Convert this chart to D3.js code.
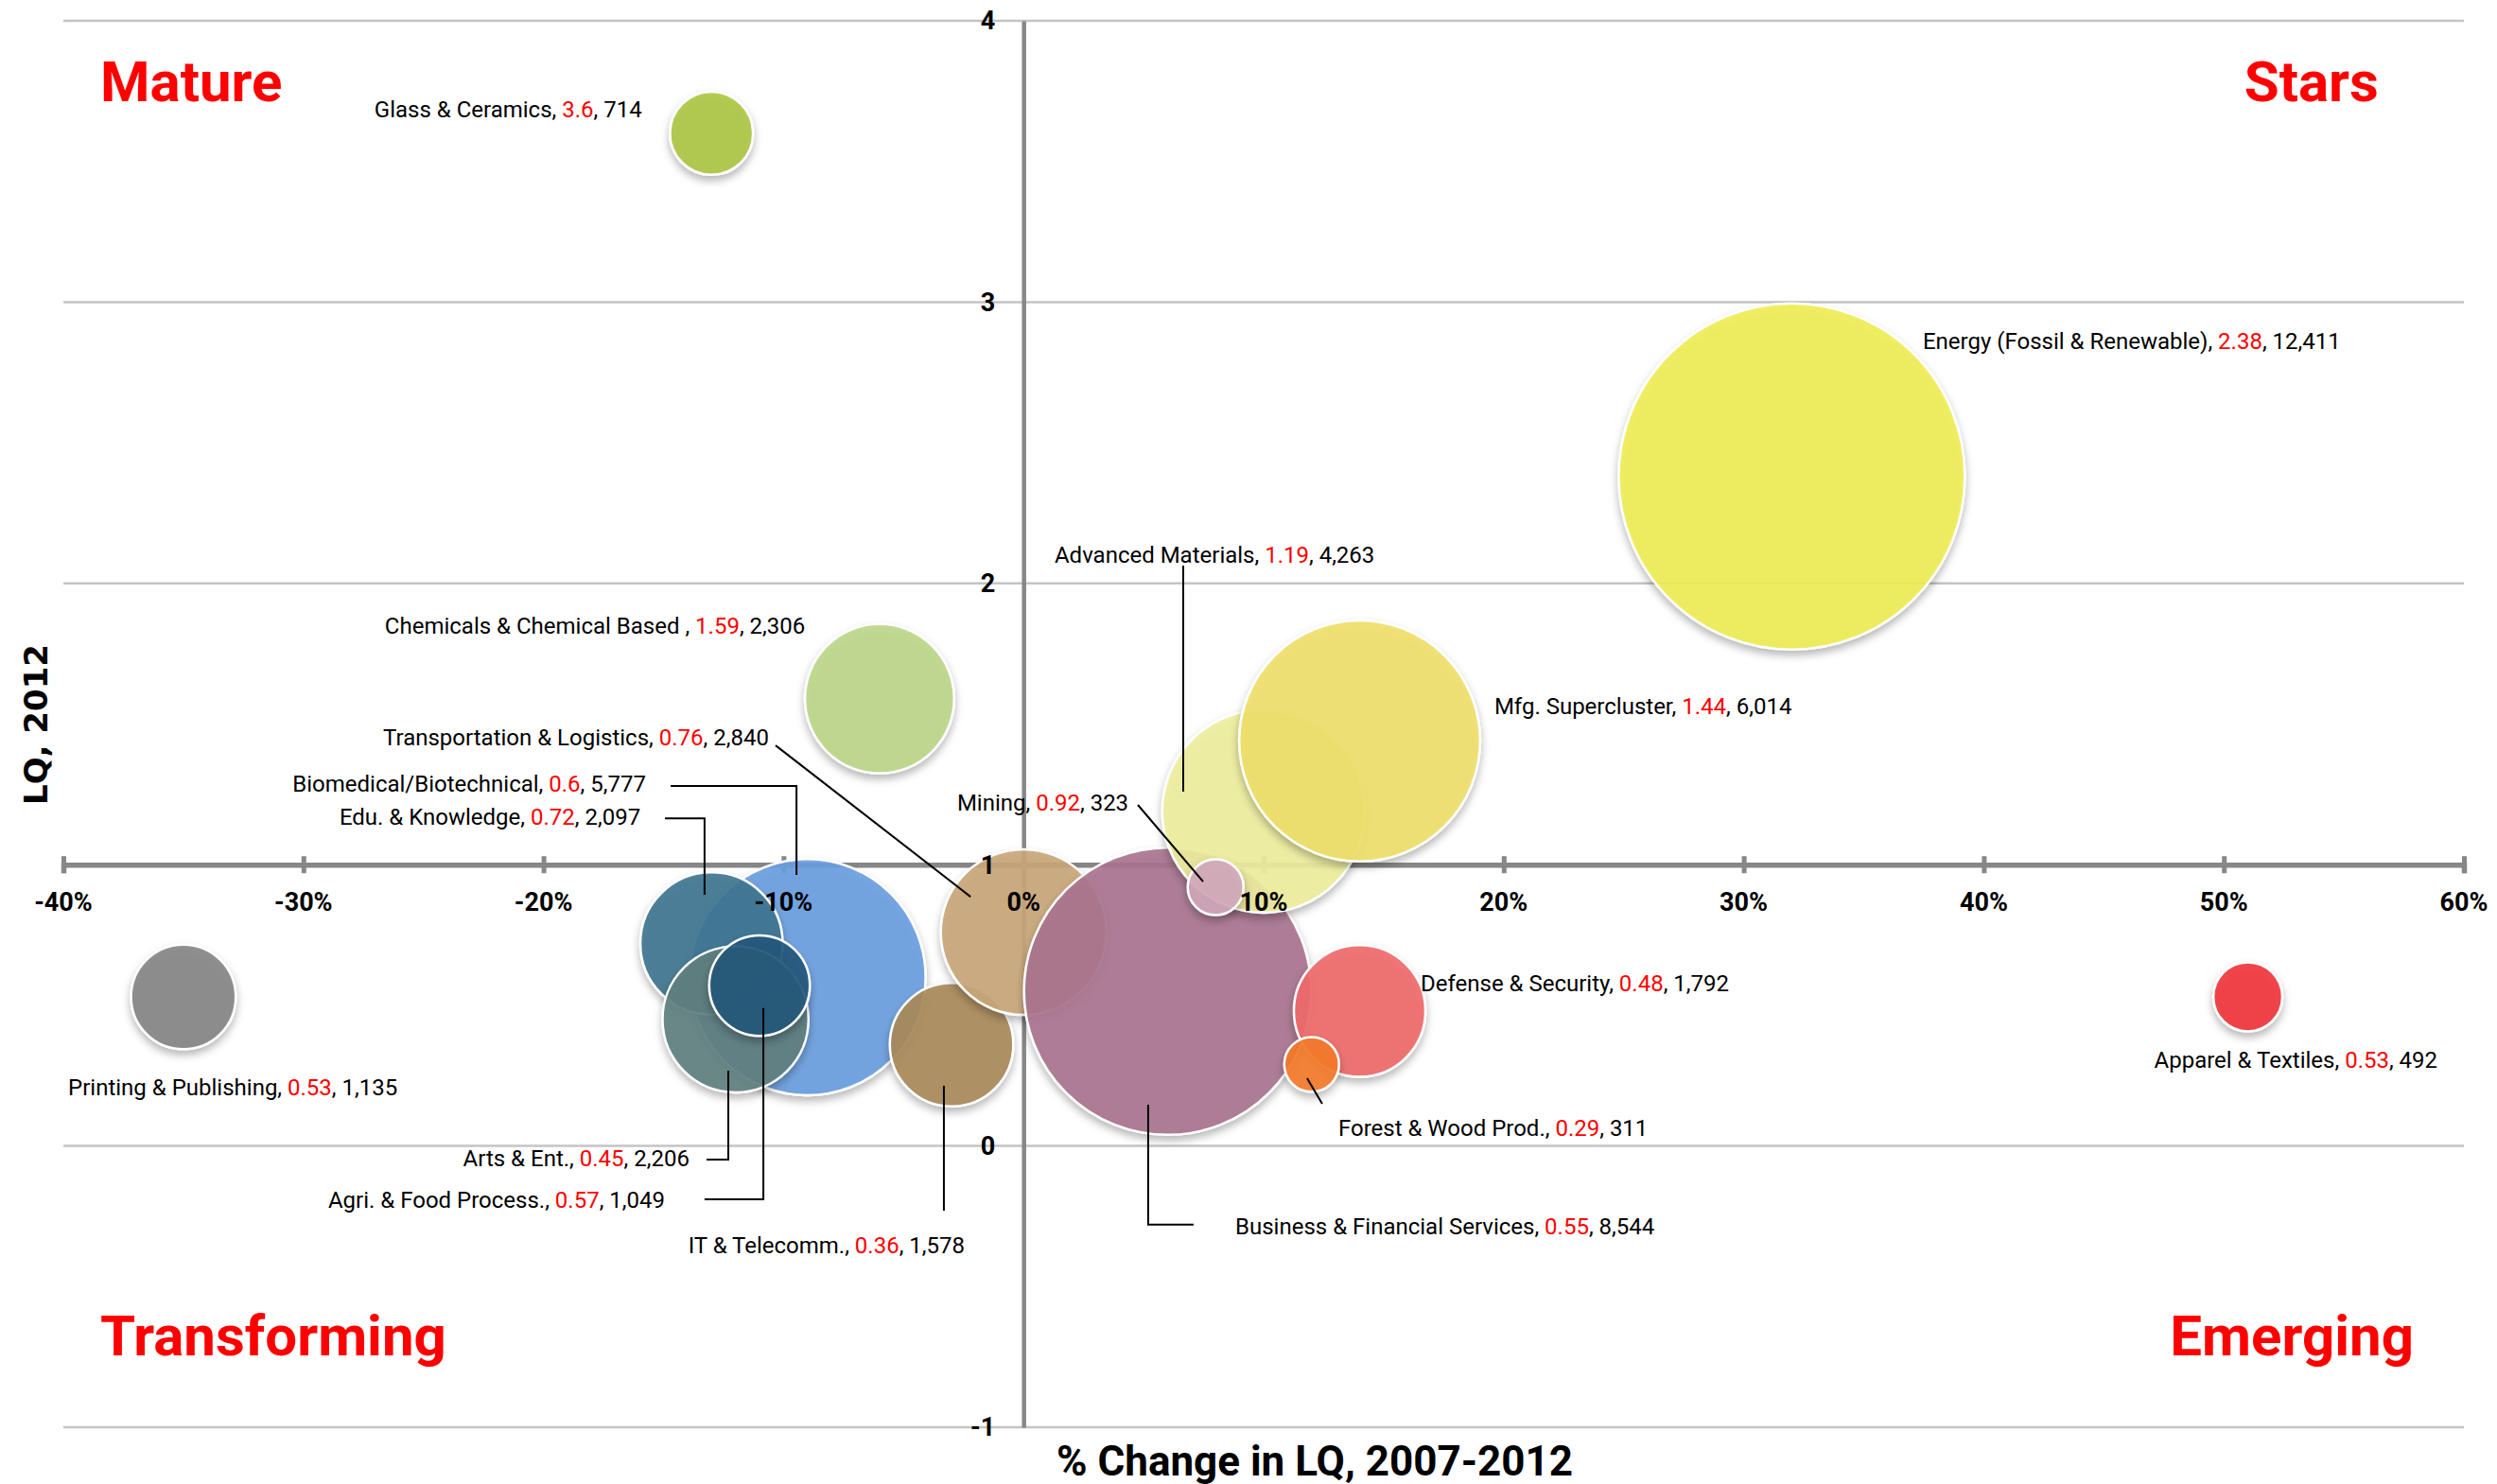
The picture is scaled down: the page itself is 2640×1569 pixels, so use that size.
<!DOCTYPE html>
<html>
<head>
<meta charset="utf-8">
<script src="https://cdn.jsdelivr.net/npm/d3@7"></script>
<style>
  body { margin: 0; background: #fff; }
  text { font-family: Roboto, "Liberation Sans", sans-serif; }
</style>
</head>
<body>
<div id="chart"></div>
<script>
// cluster data, in drawing order
const clusters = ["Printing & Publishing", "Glass & Ceramics", "Chemicals & Chemical Based ",
  "Biomedical/Biotechnical", "Edu. & Knowledge", "Arts & Ent.", "Agri. & Food Process.",
  "IT & Telecomm.", "Transportation & Logistics", "Business & Financial Services",
  "Advanced Materials", "Mfg. Supercluster", "Mining", "Defense & Security",
  "Forest & Wood Prod.", "Energy (Fossil & Renewable)", "Apparel & Textiles"];
const pctChange = [-35, -13, -6, -9, -13, -12, -11, -3, 0, 6, 10, 14, 8, 14, 12, 32, 51];
const lq2012 = [0.53, 3.6, 1.59, 0.6, 0.72, 0.45, 0.57, 0.36, 0.76, 0.55, 1.19, 1.44, 0.92, 0.48, 0.29, 2.38, 0.53];
const employment = [1135, 714, 2306, 5777, 2097, 2206, 1049, 1578, 2840, 8544, 4263, 6014, 323, 1792, 311, 12411, 492];
const colors = ["#858585", "#adc642", "#bcd688", "#6a9fe0", "#3e7590", "#5f8080", "#23587a",
  "#a8895a", "#c9a679", "#a8738f", "#eeee9e", "#efe06a", "#d1a9bb", "#f0696a", "#f47a2a",
  "#f0ee55", "#f0353a"];

const xTicks = [-40, -30, -20, -10, 0, 10, 20, 30, 40, 50, 60];
const yTicks = [-1, 0, 1, 2, 3, 4];

// label placement, in data units (pct, LQ)
const labelAt = [[-39.8, 0.21, "start"], [-15.9, 3.684, "end"], [-9.1, 1.851, "end"],
  [-15.73, 1.2865, "end"], [-15.96, 1.169, "end"], [-13.92, -0.045, "end"], [-14.94, -0.19, "end"],
  [-2.45, -0.354, "end"], [-10.61, 1.451, "end"], [8.82, -0.287, "start"], [1.29, 2.1, "start"],
  [19.61, 1.562, "start"], [4.37, 1.219, "end"], [16.54, 0.577, "start"], [13.11, 0.0625, "start"],
  [37.46, 2.86, "start"], [58.9, 0.305, "end"]];
const leaders = [null, null, null,
  [[-14.7, 1.28], [-9.46, 1.28], [-9.46, 0.964]],
  [[-14.94, 1.165], [-13.29, 1.165], [-13.29, 0.893]],
  [[-13.21, -0.048], [-12.30, -0.048], [-12.30, 0.268]],
  [[-13.29, -0.19], [-10.84, -0.19], [-10.84, 0.49]],
  [[-3.32, 0.214], [-3.32, -0.23]],
  [[-10.33, 1.424], [-2.21, 0.886]],
  [[5.19, 0.147], [5.19, -0.28], [7.08, -0.28]],
  [[6.65, 2.063], [6.65, 1.26]],
  null,
  [[4.76, 1.2125], [7.48, 0.94]],
  null,
  [[11.81, 0.241], [12.44, 0.15]],
  null, null];

const quadrants = [
  {text: "Mature", x: -38.46, y: 3.714, anchor: "start"},
  {text: "Stars", x: 56.45, y: 3.714, anchor: "end"},
  {text: "Transforming", x: -38.46, y: -0.7445, anchor: "start"},
  {text: "Emerging", x: 57.91, y: -0.7445, anchor: "end"}
];

const width = 2640, height = 1569;

const svg = d3.select("#chart").append("svg")
  .attr("width", width)
  .attr("height", height);

const x = d3.scaleLinear().domain([-40, 60]).range([67, 2605]);
const y = d3.scaleLinear().domain([-1, 4]).range([1509, 22]);
const r = d3.scaleSqrt().domain([0, 12411]).range([0, 183]);

const defs = svg.append("defs");
defs.append("filter")
  .attr("id", "shadow")
  .attr("x", "-20%").attr("y", "-20%").attr("width", "140%").attr("height", "150%")
  .append("feDropShadow")
  .attr("dx", 0).attr("dy", 5).attr("stdDeviation", 4)
  .attr("flood-color", "#000").attr("flood-opacity", 0.3);

// gridlines
svg.append("g")
  .selectAll("line")
  .data(yTicks)
  .join("line")
  .attr("x1", x(-40)).attr("x2", x(60))
  .attr("y1", d => y(d)).attr("y2", d => y(d))
  .attr("stroke", "#c4c4c4")
  .attr("stroke-width", 2.5);

// vertical axis at 0%
const yAxis = svg.append("g")
  .attr("transform", `translate(${x(0)},0)`)
  .call(d3.axisLeft(y).tickValues(yTicks).tickSize(0).tickFormat(d3.format("d")));
yAxis.select(".domain").attr("stroke", "#878787").attr("stroke-width", 4.5);
yAxis.selectAll(".tick text").remove();

// horizontal axis at LQ = 1
const xAxis = svg.append("g")
  .attr("transform", `translate(0,${y(1)})`)
  .call(d3.axisBottom(x).tickValues(xTicks).tickSize(9).tickFormat(d => d + "%"));
xAxis.select(".domain").attr("stroke", "#878787").attr("stroke-width", 5.5);
xAxis.selectAll(".tick line")
  .attr("y1", -9).attr("y2", 9)
  .attr("stroke", "#878787").attr("stroke-width", 5);
xAxis.selectAll(".tick text").remove();

// bubbles
const idx = d3.range(clusters.length);
svg.append("g")
  .selectAll("circle")
  .data(idx)
  .join("circle")
  .attr("cx", i => x(pctChange[i]))
  .attr("cy", i => y(lq2012[i]))
  .attr("r", i => r(employment[i]))
  .attr("fill", i => colors[i])
  .attr("fill-opacity", 0.9)
  .attr("stroke", "#fff")
  .attr("stroke-width", 2.5)
  .attr("filter", "url(#shadow)");

// tick labels sit above the bubbles
const tickLabels = svg.append("g")
  .attr("font-size", 27)
  .attr("font-weight", "bold");

tickLabels.selectAll("text.xt")
  .data(xTicks)
  .join("text")
  .attr("class", "xt")
  .attr("x", d => x(d))
  .attr("y", y(1) + 39)
  .attr("dy", "0.35em")
  .attr("text-anchor", "middle")
  .text(d => d + "%");

tickLabels.selectAll("text.yt")
  .data(yTicks)
  .join("text")
  .attr("class", "yt")
  .attr("x", x(0) - 30)
  .attr("y", d => y(d))
  .attr("dy", "0.35em")
  .attr("text-anchor", "end")
  .text(d => d);

// leader lines
const line = d3.line().x(p => x(p[0])).y(p => y(p[1]));
svg.append("g")
  .selectAll("path")
  .data(leaders.filter(d => d))
  .join("path")
  .attr("d", line)
  .attr("fill", "none")
  .attr("stroke", "#000")
  .attr("stroke-width", 2);

// data labels
const fmt = d3.format(",");
const labels = svg.append("g")
  .selectAll("text")
  .data(idx)
  .join("text")
  .attr("x", i => x(labelAt[i][0]))
  .attr("y", i => y(labelAt[i][1]))
  .attr("dy", "0.35em")
  .attr("text-anchor", i => labelAt[i][2])
  .attr("font-size", 24)
  .attr("fill", "#000");
labels.append("tspan").text(i => clusters[i] + ", ");
labels.append("tspan").attr("fill", "#ff0000").text(i => String(lq2012[i]));
labels.append("tspan").text(i => ", " + fmt(employment[i]));

// quadrant names
svg.append("g")
  .selectAll("text")
  .data(quadrants)
  .join("text")
  .attr("x", d => x(d.x))
  .attr("y", d => y(d.y))
  .attr("text-anchor", d => d.anchor)
  .attr("font-size", 60)
  .attr("font-weight", "bold")
  .attr("fill", "#ff0000")
  .text(d => d.text);

// axis titles
svg.append("text")
  .attr("x", 1390)
  .attr("y", 1560)
  .attr("text-anchor", "middle")
  .attr("font-size", 44)
  .attr("font-weight", "bold")
  .text("% Change in LQ, 2007-2012");

svg.append("text")
  .attr("transform", "translate(50,766) rotate(-90)")
  .attr("text-anchor", "middle")
  .style("font-family", "'DejaVu Sans', Verdana, sans-serif")
  .attr("font-size", 34)
  .attr("font-weight", "bold")
  .text("LQ, 2012");
</script>
</body>
</html>
